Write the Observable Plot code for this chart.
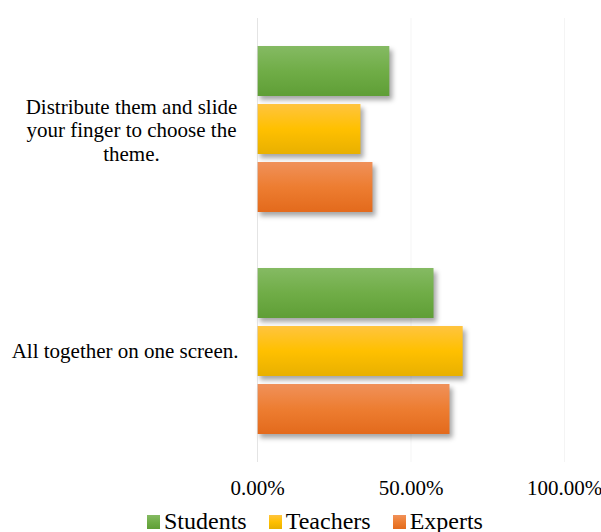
<!DOCTYPE html>
<html>
<head>
<meta charset="utf-8">
<script src="https://cdn.jsdelivr.net/npm/d3@7"></script>
<script src="https://cdn.jsdelivr.net/npm/@observablehq/plot@0.6"></script>
<style>
  body { margin: 0; background: #fff; }
  .bar3d { filter: drop-shadow(3px 4px 2.5px rgba(0,0,0,0.35)); }
  #legend { font-family: "Liberation Serif", "Times New Roman", serif; font-size: 24px; line-height: 29px; padding-top: 4px; padding-left: 147px; color: #000; white-space: nowrap; }
  #legend span.item { margin-right: 22px; }
  #legend span.sw { display: inline-block; width: 13px; height: 14px; margin-right: 4px; vertical-align: baseline; }
</style>
</head>
<body>
<div id="chart"></div>
<div id="legend"></div>
<script>
const categories = ["Distribute them and slide\nyour finger to choose the\ntheme.", "All together on one screen."];
const series = ["Students", "Teachers", "Experts"];
const students = [0.431, 0.575];
const teachers = [0.337, 0.670];
const experts = [0.376, 0.627];
const xTicks = [0, 0.5, 1];
const baseColors = ["#70ad47", "#ffc000", "#ed7d31"];
const topColors = ["#85ba63", "#ffc43f", "#f0915a"];
const bottomColors = ["#5f9e36", "#e8b000", "#e36a1c"];

const values = [students, teachers, experts];
const data = categories.flatMap((c, i) => series.map((s, j) => ({category: c, series: s, value: values[j][i]})));

const font = '"Liberation Serif", "Times New Roman", serif';

const chart = Plot.plot({
  width: 601,
  height: 503,
  marginLeft: 257,
  marginRight: 37,
  marginTop: 17,
  marginBottom: 41,
  style: {fontFamily: font, fontSize: "21px", color: "#000", background: "#fff"},
  x: {domain: [0, 1]},
  y: {domain: series, axis: null, paddingInner: 0.145, paddingOuter: 0.48},
  fy: {domain: categories, axis: null, padding: 0},
  color: {domain: series, range: series.map((s, i) => `url(#grad${i})`)},
  marks: [
    Plot.gridX(xTicks.slice(1), {stroke: "#e0e0e0", strokeOpacity: 0.35}),
    Plot.barX(data, {fy: "category", y: "series", x: "value", fill: "series", className: "bar3d"}),
    Plot.ruleX([0], {stroke: "#d9d9d9", strokeOpacity: 0.7}),
    Plot.axisX(xTicks, {tickSize: 0, tickPadding: 18, tickFormat: d => (d * 100).toFixed(2) + "%", label: null, fontSize: 21, fontFamily: font}),
    Plot.text([categories[0]], {fy: d => d, text: d => d, frameAnchor: "left", dx: -126, textAnchor: "middle", lineHeight: 1.12, fontSize: 21, fontFamily: font, fill: "#000"}),
    Plot.text([categories[1]], {fy: d => d, text: d => d, frameAnchor: "left", dx: -19, textAnchor: "end", fontSize: 21, fontFamily: font, fill: "#000"})
  ]
});

const defs = d3.select(chart).insert("defs", ":first-child");
series.forEach((s, i) => {
  const g = defs.append("linearGradient").attr("id", `grad${i}`).attr("x1", 0).attr("y1", 0).attr("x2", 0).attr("y2", 1);
  g.append("stop").attr("offset", "0%").attr("stop-color", topColors[i]);
  g.append("stop").attr("offset", "50%").attr("stop-color", baseColors[i]);
  g.append("stop").attr("offset", "100%").attr("stop-color", bottomColors[i]);
});

document.getElementById("chart").appendChild(chart);

const legend = d3.select("#legend");
series.forEach((s, i) => {
  const item = legend.append("span").attr("class", "item");
  item.append("span").attr("class", "sw").style("background", `linear-gradient(${topColors[i]}, ${baseColors[i]} 50%, ${bottomColors[i]})`);
  item.append("span").text(s);
});
</script>
</body>
</html>
